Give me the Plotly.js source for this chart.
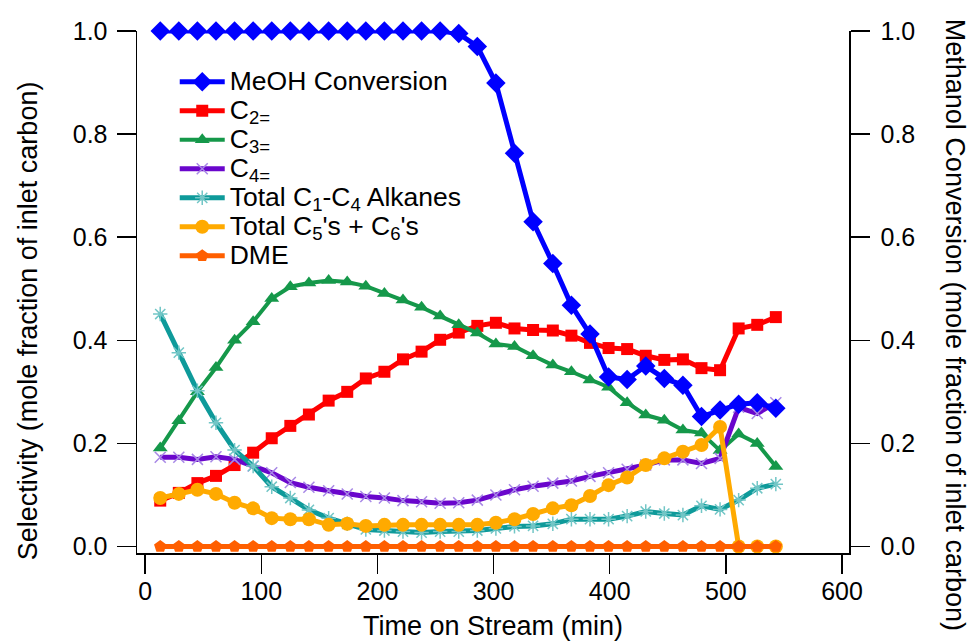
<!DOCTYPE html>
<html>
<head>
<meta charset="utf-8">
<script src="https://cdn.plot.ly/plotly-3.0.1.min.js"></script>
<style>
html,body{margin:0;padding:0;background:#fff;}
#chart{width:974px;height:642px;}
</style>
</head>
<body>
<div id="chart"></div>
<script>
// Time on stream (min)
var timeMin = [13, 29, 45, 61, 77, 93, 109, 125, 141, 158, 174, 190, 206, 222, 238, 254, 270, 286, 302, 318, 334, 351, 367, 383, 399, 415, 431, 447, 463, 479, 495, 511, 527, 543];

// Methanol conversion (right axis)
var meohConversion = [1, 1, 1, 1, 1, 1, 1, 1, 1, 1, 1, 1, 1, 1, 1, 1, 0.995, 0.970, 0.899, 0.763, 0.630, 0.549, 0.468, 0.412, 0.329, 0.324, 0.350, 0.326, 0.313, 0.252, 0.265, 0.276, 0.279, 0.268];

// Selectivities (left axis)
var c2 = [0.089, 0.104, 0.123, 0.137, 0.158, 0.182, 0.210, 0.234, 0.256, 0.283, 0.300, 0.326, 0.339, 0.363, 0.378, 0.401, 0.415, 0.428, 0.434, 0.423, 0.420, 0.419, 0.409, 0.395, 0.385, 0.383, 0.370, 0.362, 0.363, 0.346, 0.342, 0.423, 0.430, 0.445];
var c3 = [0.191, 0.244, 0.300, 0.347, 0.400, 0.436, 0.481, 0.504, 0.511, 0.516, 0.513, 0.505, 0.491, 0.478, 0.464, 0.447, 0.430, 0.414, 0.393, 0.388, 0.370, 0.352, 0.339, 0.323, 0.309, 0.279, 0.255, 0.245, 0.226, 0.220, 0.186, 0.218, 0.200, 0.155];
var c4 = [0.173, 0.173, 0.169, 0.174, 0.169, 0.156, 0.143, 0.124, 0.115, 0.108, 0.102, 0.097, 0.094, 0.089, 0.087, 0.084, 0.085, 0.090, 0.100, 0.110, 0.117, 0.123, 0.127, 0.136, 0.143, 0.150, 0.158, 0.168, 0.168, 0.161, 0.171, 0.270, 0.258, 0.279];
var alkanes = [0.451, 0.376, 0.302, 0.240, 0.187, 0.156, 0.116, 0.094, 0.071, 0.055, 0.044, 0.033, 0.031, 0.029, 0.027, 0.029, 0.029, 0.031, 0.035, 0.039, 0.040, 0.044, 0.053, 0.053, 0.053, 0.059, 0.068, 0.064, 0.061, 0.079, 0.072, 0.090, 0.113, 0.121];
var c5c6 = [0.094, 0.102, 0.110, 0.102, 0.085, 0.074, 0.055, 0.053, 0.053, 0.042, 0.044, 0.040, 0.042, 0.042, 0.042, 0.042, 0.042, 0.042, 0.046, 0.053, 0.063, 0.074, 0.080, 0.098, 0.119, 0.134, 0.158, 0.171, 0.184, 0.197, 0.232, 0, 0, 0];
var dme = [0, 0, 0, 0, 0, 0, 0, 0, 0, 0, 0, 0, 0, 0, 0, 0, 0, 0, 0, 0, 0, 0, 0, 0, 0, 0, 0, 0, 0, 0, 0, 0, 0, 0];

// Labels
var seriesNames = ['MeOH Conversion', 'C<sub>2=</sub>', 'C<sub>3=</sub>', 'C<sub>4=</sub>', 'Total C<sub>1</sub>-C<sub>4</sub> Alkanes', "Total C<sub>5</sub>'s + C<sub>6</sub>'s", 'DME'];
var xTickVals = [0, 100, 200, 300, 400, 500, 600];
var yTickVals = [0, 0.2, 0.4, 0.6, 0.8, 1.0];

var FONT = 'Liberation Sans, Arial, Helvetica, sans-serif';
function nm(s){ return '<span style="font-size:26.5px">' + s + '</span>'; }

function tr(y, name, color, sym, msize, mcolor, mline, axis, lw){
  return {
    x: timeMin, y: y, name: nm(name), type: 'scatter', mode: 'lines+markers',
    yaxis: axis || 'y', cliponaxis: false,
    line: {color: color, width: lw || 5},
    marker: {symbol: sym, size: msize, color: mcolor || color, line: mline || {width: 0}}
  };
}

var traces = [
  tr(meohConversion, seriesNames[0], '#0000ff', 'diamond', 15, null, null, 'y2', 5),
  tr(c2, seriesNames[1], '#ff0000', 'square', 12),
  tr(c3, seriesNames[2], '#15984a', 'triangle-up', 13, null, null, null, 4),
  tr(c4, seriesNames[3], '#6a06cc', 'x-thin-open', 11, '#a888e6', {width: 1.5, color: '#a888e6'}),
  tr(alkanes, seriesNames[4], '#0e9a9a', 'asterisk-open', 12, '#72c6c6', {width: 1.5, color: '#72c6c6'}),
  tr(c5c6, seriesNames[5], '#ffaa00', 'circle', 14),
  tr(dme, seriesNames[6], '#ff5f00', 'pentagon', 13)
];

var axisCommon = {
  showline: true, linecolor: '#000', linewidth: 1.5,
  ticks: 'outside', ticklen: 19, tickwidth: 1.5, tickcolor: '#000',
  showgrid: false, zeroline: false,
  tickfont: {family: FONT, size: 25, color: '#000'}
};

var layout = {
  width: 974, height: 642,
  margin: {l: 137, r: 125, t: 31, b: 89, pad: 0},
  paper_bgcolor: '#fff', plot_bgcolor: '#fff',
  font: {family: FONT, size: 25, color: '#000'},
  showlegend: true,
  legend: {
    x: 0.053, xanchor: 'left', y: 0.94, yanchor: 'top',
    bgcolor: 'rgba(0,0,0,0)', borderwidth: 0,
    font: {family: FONT, size: 20, color: '#000'},
    tracegroupgap: 0, itemwidth: 45
  },
  xaxis: Object.assign({}, axisCommon, {
    range: [-7, 606], tickvals: xTickVals, ticklabelstandoff: -4,
    title: {text: 'Time on Stream (min)', font: {family: FONT, size: 27, color: '#000'}, standoff: 12}
  }),
  yaxis: Object.assign({}, axisCommon, {
    range: [-0.0126, 1.0], tickvals: yTickVals, tickformat: '.1f', ticklabelstandoff: 4
  }),
  yaxis2: Object.assign({}, axisCommon, {
    range: [-0.0126, 1.0], tickvals: yTickVals, tickformat: '.1f',
    overlaying: 'y', side: 'right', ticklabelstandoff: 6
  }),
  annotations: [
    {text: 'Selectivity (mole fraction of inlet carbon)', xref: 'paper', yref: 'paper',
     x: -0.153, y: 0.444, xanchor: 'center', yanchor: 'middle', textangle: -90, showarrow: false,
     font: {family: FONT, size: 27, color: '#000'}},
    {text: 'Methanol Conversion (mole fraction of inlet carbon)', xref: 'paper', yref: 'paper',
     x: 1.149, y: 0.437, xanchor: 'center', yanchor: 'middle', textangle: 90, showarrow: false,
     font: {family: FONT, size: 27, color: '#000'}}
  ]
};

Plotly.newPlot('chart', traces, layout, {displayModeBar: false, staticPlot: true});
</script>
</body>
</html>
